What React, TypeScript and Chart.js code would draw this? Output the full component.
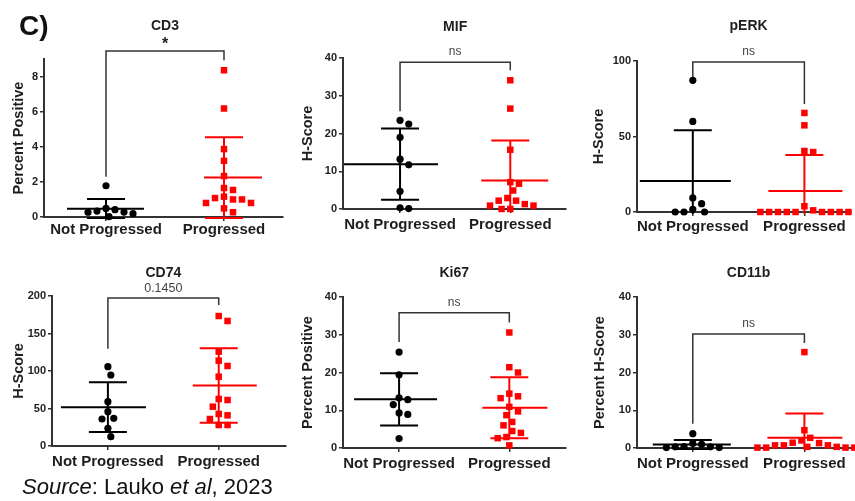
import React, { useEffect, useRef } from 'react';
import { Chart, registerables } from 'chart.js';

Chart.register(...registerables);

const FONT = "'Liberation Sans', Arial, Helvetica, sans-serif";

// ---------- DATA ----------
const groupLabels = ['Not Progressed', 'Progressed'];

const panelTitles = ['CD3', 'MIF', 'pERK', 'CD74', 'Ki67', 'CD11b'];
const yAxisTitles = ['Percent Positive', 'H-Score', 'H-Score', 'H-Score', 'Percent Positive', 'Percent H-Score'];
const yAxisMax = [9, 40, 100, 200, 40, 40];
const significanceLabels = ['*', 'ns', 'ns', '0.1450', 'ns', 'ns'];
const bracketLevels = [9.46, 38.9, 99.3, 197.3, 35.8, 30.2];

const cd3Ticks = [0, 2, 4, 6, 8];
const cd3NotProgressed = [1.78, 0.49, 0.42, 0.34, 0.28, 0.27, 0.19, 0.02];
const cd3Progressed = [8.36, 6.18, 3.87, 3.2, 2.33, 1.65, 1.54, 1.16, 1.08, 1.0, 1.0, 0.8, 0.8, 0.49, 0.27];

const mifTicks = [0, 10, 20, 30, 40];
const mifNotProgressed = [23.5, 22.5, 19.0, 13.2, 11.7, 4.7, 0.3, 0.1];
const mifProgressed = [34.1, 26.6, 15.7, 7.1, 6.7, 4.9, 2.9, 2.2, 2.2, 1.3, 0.9, 0.9, 0, 0];

const perkTicks = [0, 50, 100];
const perkNotProgressed = [87.2, 60.0, 9.3, 5.5, 1.8, 0, 0, 0];
const perkProgressed = [65.6, 57.4, 40.4, 39.7, 3.8, 1.1, 0, 0, 0, 0, 0, 0, 0, 0, 0];

const cd74Ticks = [0, 50, 100, 150, 200];
const cd74NotProgressed = [105.8, 94.7, 59.1, 45.8, 36.9, 36.0, 23.6, 12.4];
const cd74Progressed = [173.3, 166.7, 125.8, 113.8, 106.7, 92.4, 62.7, 61.3, 52.4, 42.7, 40.9, 36.0, 28.0, 28.0];

const ki67Ticks = [0, 10, 20, 30, 40];
const ki67NotProgressed = [25.4, 19.4, 13.3, 12.8, 11.5, 9.3, 8.9, 2.5];
const ki67Progressed = [30.6, 21.4, 20.0, 14.4, 13.7, 13.2, 10.9, 9.7, 8.7, 6.9, 6.0, 4.5, 4.0, 2.9, 2.6, 0.7];

const cd11bTicks = [0, 10, 20, 30, 40];
const cd11bNotProgressed = [3.8, 1.2, 1.0, 0.4, 0.3, 0.3, 0.1, 0.1];
const cd11bProgressed = [25.4, 4.7, 2.7, 2.0, 1.4, 1.3, 0.7, 0.7, 0.7, 0.3, 0.3, 0.1, 0.1, 0.1, 0.1];

const tickSets = [cd3Ticks, mifTicks, perkTicks, cd74Ticks, ki67Ticks, cd11bTicks];
const notProgressedSets = [cd3NotProgressed, mifNotProgressed, perkNotProgressed, cd74NotProgressed, ki67NotProgressed, cd11bNotProgressed];
const progressedSets = [cd3Progressed, mifProgressed, perkProgressed, cd74Progressed, ki67Progressed, cd11bProgressed];

// ---------- LAYOUT (pixels) ----------
const layouts = [
  { cx: 0, cy: 0, cw: 290, ch: 240, L: 44, T: 59, R: 283, B: 217, c1: 106, c2: 224, titleY: 25, labelY: 230, yTitleX: 19, legGaps: [9, 10], meanLeft: [39, 20] },
  { cx: 290, cy: 0, cw: 280, ch: 240, L: 343, T: 58, R: 573, B: 209, c1: 402, c2: 516, titleY: 26, labelY: 224.5, yTitleX: 307.5, legGaps: [9, 10], meanLeft: [56, 29] },
  { cx: 570, cy: 0, cw: 285, ch: 240, L: 637, T: 61, R: 855, B: 212, c1: 694, c2: 808, titleY: 25, labelY: 226.5, yTitleX: 599, legGaps: [3, 9], meanLeft: [53, 36] },
  { cx: 0, cy: 255, cw: 290, ch: 225, L: 52, T: 296, R: 290, B: 446, c1: 109, c2: 222, titleY: 271.7, labelY: 461.7, yTitleX: 18.7, legGaps: [18, 11], meanLeft: [47, 26] },
  { cx: 290, cy: 255, cw: 280, ch: 225, L: 343, T: 297, R: 573, B: 448, c1: 401, c2: 515, titleY: 272, labelY: 463.8, yTitleX: 307.5, legGaps: [10, 10], meanLeft: [45, 27] },
  { cx: 570, cy: 255, cw: 285, ch: 225, L: 637, T: 297, R: 855, B: 448, c1: 694, c2: 808, titleY: 272, labelY: 463.8, yTitleX: 600, legGaps: [10, 9], meanLeft: [40, 37] },
];

const groupColors = ['#000000', '#ff0000'];
const MEAN_RIGHT = 38;
const CAP_HALF = 19;
const X_LABEL_SIZE = 15;
const Y_TITLE_SIZE = 14.5;

// ---------- helpers ----------
function mean(a: number[]) {
  return a.reduce((s, v) => s + v, 0) / a.length;
}
function sd(a: number[]) {
  const m = mean(a);
  return Math.sqrt(a.reduce((s, v) => s + (v - m) * (v - m), 0) / (a.length - 1));
}

// simple beeswarm: spreads points sideways so that they do not overlap
function swarm(vals: number[], center: number, pxPerX: number, pxPerY: number) {
  const step = 3;
  const minDist = 8.5;
  const idx = vals.map((_, i) => i).sort((a, b) => vals[b] - vals[a]);
  const placed: { x: number; y: number }[] = [];
  const out: { x: number; y: number }[] = new Array(vals.length);
  for (const i of idx) {
    const py = vals[i] * pxPerY;
    let dx = 0;
    for (let k = 0; k < 120; k++) {
      const cand = k === 0 ? 0 : (k % 2 ? 1 : -1) * Math.ceil(k / 2) * step;
      if (placed.every((p) => Math.hypot(p.x - cand, p.y - py) >= minDist)) {
        dx = cand;
        break;
      }
    }
    placed.push({ x: dx, y: py });
    out[i] = { x: center + dx / pxPerX, y: vals[i] };
  }
  return out;
}

function Panel({ index }: { index: number }) {
  const ref = useRef<HTMLCanvasElement | null>(null);
  const lay = layouts[index];

  useEffect(() => {
    const canvas = ref.current;
    if (!canvas) return;
    const np = notProgressedSets[index];
    const pr = progressedSets[index];
    const groups = [np, pr];
    const yMax = yAxisMax[index];
    const ticks = tickSets[index];
    const pxPerX = lay.c2 - lay.c1;
    const pxPerY = (lay.B - lay.T) / yMax;
    const xMin = 1 - (lay.c1 - lay.L) / pxPerX;
    const xMax = 2 + (lay.R - lay.c2) / pxPerX;

    const decor = {
      id: 'decor' + index,
      afterDatasetsDraw(chart: any) {
        const { ctx, chartArea, scales } = chart;
        const x = scales.x;
        const y = scales.y;
        ctx.save();
        ctx.beginPath();
        ctx.rect(chartArea.left, chartArea.top - 40, chartArea.right - chartArea.left + 5, chartArea.bottom - chartArea.top + 42);
        ctx.clip();
        groups.forEach((vals, gi) => {
          const m = mean(vals);
          const s = sd(vals);
          const px = x.getPixelForValue(gi + 1);
          const yM = y.getPixelForValue(m);
          const yHi = y.getPixelForValue(m + s);
          const yLo = y.getPixelForValue(m - s);
          ctx.strokeStyle = groupColors[gi];
          ctx.lineWidth = 2;
          ctx.beginPath();
          ctx.moveTo(px, yLo);
          ctx.lineTo(px, yHi);
          ctx.moveTo(px - CAP_HALF, yHi);
          ctx.lineTo(px + CAP_HALF, yHi);
          ctx.moveTo(px - CAP_HALF, yLo);
          ctx.lineTo(px + CAP_HALF, yLo);
          ctx.moveTo(px - lay.meanLeft[gi], yM);
          ctx.lineTo(px + MEAN_RIGHT, yM);
          ctx.stroke();
        });
        ctx.restore();
      },
      afterDraw(chart: any) {
        const { ctx, scales } = chart;
        const x = scales.x;
        const y = scales.y;
        const x1 = x.getPixelForValue(1);
        const x2 = x.getPixelForValue(2);
        const xm = x.getPixelForValue(1.5);
        const yTop = y.getPixelForValue(bracketLevels[index]);
        const y1 = y.getPixelForValue(Math.max(...np)) - lay.legGaps[0];
        const y2 = y.getPixelForValue(Math.max(...pr)) - lay.legGaps[1];
        ctx.save();
        ctx.strokeStyle = '#333333';
        ctx.lineWidth = 1.5;
        ctx.beginPath();
        ctx.moveTo(x1, y1);
        ctx.lineTo(x1, yTop);
        ctx.lineTo(x2, yTop);
        ctx.lineTo(x2, y2);
        ctx.stroke();

        const sig = significanceLabels[index];
        ctx.textAlign = 'center';
        ctx.textBaseline = 'alphabetic';
        if (sig === '*') {
          ctx.font = `bold 16px ${FONT}`;
          ctx.fillStyle = '#222222';
          ctx.fillText(sig, xm, yTop - 2);
        } else if (sig === 'ns') {
          ctx.font = `12px ${FONT}`;
          ctx.fillStyle = '#444444';
          ctx.fillText(sig, xm, yTop - 7);
        } else {
          ctx.font = `12.5px ${FONT}`;
          ctx.fillStyle = '#444444';
          ctx.fillText(sig, xm, yTop - 6);
        }

        ctx.font = `bold 14px ${FONT}`;
        ctx.fillStyle = '#1e1e1e';
        ctx.fillText(panelTitles[index], xm, lay.titleY - lay.cy + 0.358 * 14);
        ctx.restore();
      },
    };

    const chart = new Chart(canvas, {
      type: 'scatter',
      data: {
        datasets: [
          {
            data: swarm(np, 1, pxPerX, pxPerY),
            pointStyle: 'circle',
            pointRadius: 3.6,
            backgroundColor: groupColors[0],
            borderColor: groupColors[0],
            borderWidth: 0,
            clip: false,
          },
          {
            data: swarm(pr, 2, pxPerX, pxPerY),
            pointStyle: 'rect',
            pointRadius: 4.6,
            backgroundColor: groupColors[1],
            borderColor: groupColors[1],
            borderWidth: 0,
            clip: false,
          },
        ],
      },
      options: {
        responsive: false,
        animation: false,
        events: [],
        layout: { padding: { left: 0, top: lay.T - lay.cy, right: lay.cx + lay.cw - lay.R, bottom: 0 } },
        plugins: { legend: { display: false }, tooltip: { enabled: false }, title: { display: false } },
        scales: {
          x: {
            type: 'linear',
            min: xMin,
            max: xMax,
            afterBuildTicks: (s: any) => {
              s.ticks = [{ value: 1 }, { value: 2 }];
            },
            afterFit: (s: any) => {
              s.height = lay.cy + lay.ch - lay.B;
              s.paddingLeft = 0;
              s.paddingRight = 0;
            },
            ticks: {
              callback: (v: any) => groupLabels[Math.round(v) - 1] ?? '',
              font: { family: FONT, size: X_LABEL_SIZE, weight: 'bold' },
              color: '#1e1e1e',
              padding: lay.labelY - lay.B - 4 - X_LABEL_SIZE * 0.6,
              maxRotation: 0,
              minRotation: 0,
              autoSkip: false,
            },
            grid: { drawOnChartArea: false, drawTicks: true, tickLength: 4, color: '#333333', lineWidth: 1.5 },
            border: { display: true, color: '#333333', width: 2 },
          },
          y: {
            type: 'linear',
            min: 0,
            max: yMax,
            afterBuildTicks: (s: any) => {
              s.ticks = ticks.map((v) => ({ value: v }));
            },
            afterFit: (s: any) => {
              s.width = lay.L - lay.cx;
              s.paddingTop = 0;
              s.paddingBottom = 0;
            },
            ticks: {
              font: { family: FONT, size: 11, weight: 'bold' },
              color: '#222222',
              padding: 2,
            },
            grid: { drawOnChartArea: false, drawTicks: true, tickLength: 4, color: '#333333', lineWidth: 1.5 },
            border: { display: true, color: '#333333', width: 2 },
            title: {
              display: true,
              text: yAxisTitles[index],
              font: { family: FONT, size: Y_TITLE_SIZE, weight: 'bold' },
              color: '#1e1e1e',
              padding: { top: lay.yTitleX - lay.cx - (Y_TITLE_SIZE * 1.2) / 2, bottom: 0 },
            },
          },
        },
      },
      plugins: [decor],
    } as any);
    return () => chart.destroy();
  }, [index]);

  return (
    <canvas
      ref={ref}
      width={lay.cw}
      height={lay.ch}
      style={{ position: 'absolute', left: lay.cx, top: lay.cy, width: lay.cw, height: lay.ch }}
    />
  );
}

export default function App() {
  return (
    <div
      style={{
        position: 'absolute',
        left: 0,
        top: 0,
        width: 855,
        height: 501,
        overflow: 'hidden',
        background: '#ffffff',
        fontFamily: FONT,
      }}
    >
      {layouts.map((_, i) => (
        <Panel key={i} index={i} />
      ))}
      <div
        style={{
          position: 'absolute',
          left: 19,
          top: 12,
          fontSize: 28,
          lineHeight: '28px',
          fontWeight: 'bold',
          color: '#111',
        }}
      >
        C)
      </div>
      <div
        style={{
          position: 'absolute',
          left: 22,
          top: 476,
          fontSize: 22,
          lineHeight: '22px',
          color: '#111',
          whiteSpace: 'nowrap',
        }}
      >
        <i>Source</i>: Lauko <i>et al</i>, 2023
      </div>
    </div>
  );
}
